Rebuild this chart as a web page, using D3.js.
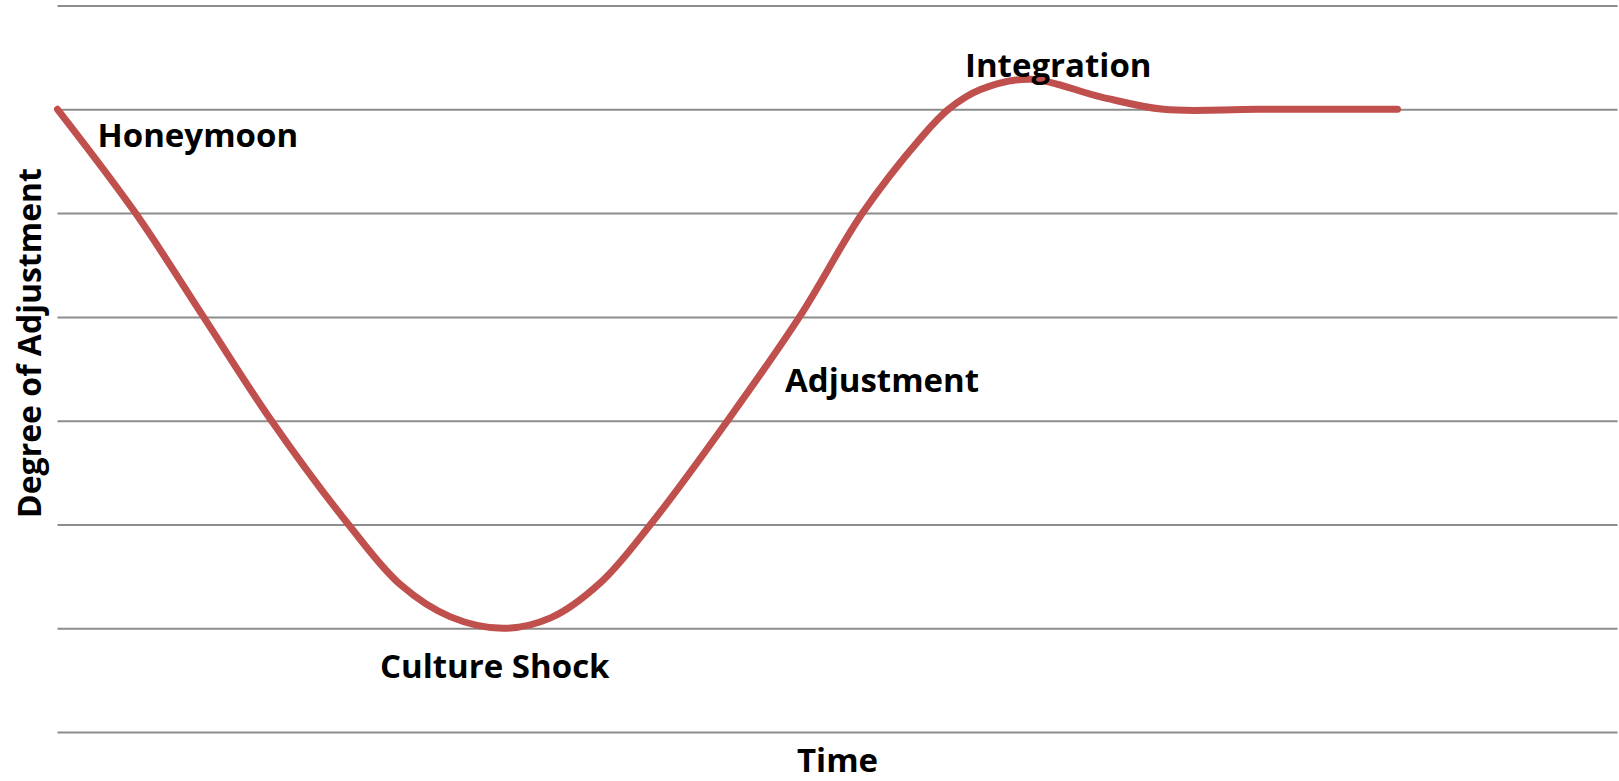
<!DOCTYPE html>
<html>
<head>
<meta charset="utf-8">
<script src="https://cdn.jsdelivr.net/npm/d3@7"></script>
<style>
  body { margin: 0; background: #fff; }
  text { font-family: "Open Sans", sans-serif; font-weight: 700; fill: #000; }
</style>
</head>
<body>
<div id="chart"></div>
<script>
// time (arbitrary units) vs degree of adjustment
const times       = [0,  78, 146, 214, 291, 343, 393, 446, 493, 543, 593, 670, 742, 805, 863, 891, 923, 973, 1043, 1106, 1200, 1340];
const adjustment  = [6,   5,   4,   3,   2, 1.42, 1.11, 1, 1.10, 1.44, 2,   3,   4,   5, 5.72, 6, 6.19, 6.29, 6.12, 6, 6, 6];
const gridLevels  = [0, 1, 2, 3, 4, 5, 6, 7];

// phase labels, anchored in data units (left edge, baseline)
const phaseNames  = ["Honeymoon", "Culture Shock", "Adjustment", "Integration"];
const phaseTimes  = [40, 322.5, 727.5, 907.5];
const phaseLevels = [5.64, 0.52, 3.28, 6.31];

const xTitle = "Time";
const yTitle = "Degree of Adjustment";

const W = 1619, H = 781;
const lineColor = "#c0504d";

let svg = d3.select("#chart").append("svg")
    .attr("width", W)
    .attr("height", H);

let x = d3.scaleLinear()
    .domain([0, 1560])
    .range([57.5, 1617.5]);

let y = d3.scaleLinear()
    .domain([0, 7])
    .range([732.1, 5.5]);

// horizontal gridlines
svg.append("g")
    .attr("transform", "translate(" + x.range()[0] + ",0)")
    .call(d3.axisLeft(y).tickValues(gridLevels)
        .tickSize(-(x.range()[1] - x.range()[0]))
        .tickFormat(""))
    .call(g => g.select(".domain").remove())
    .selectAll("line")
    .attr("stroke", "#8c8c8c")
    .attr("stroke-width", 2);

// the curve
let pts = times.map((t, i) => ({t: t, v: adjustment[i]}));
svg.append("path")
    .datum(pts)
    .attr("fill", "none")
    .attr("stroke", lineColor)
    .attr("stroke-width", 7)
    .attr("stroke-linecap", "round")
    .attr("stroke-linejoin", "round")
    .attr("d", d3.line()
        .curve(d3.curveCatmullRom.alpha(0.5))
        .x(d => x(d.t))
        .y(d => y(d.v)));

// phase labels
svg.selectAll(".phase")
    .data(phaseNames)
    .enter().append("text")
    .attr("class", "phase")
    .attr("x", (d, i) => x(phaseTimes[i]))
    .attr("y", (d, i) => y(phaseLevels[i]))
    .style("font-size", "33px")
    .text(d => d);

// axis titles
svg.append("text")
    .attr("x", (x.range()[0] + x.range()[1]) / 2)
    .attr("y", 772)
    .attr("text-anchor", "middle")
    .style("font-size", "33px")
    .text(xTitle);

svg.append("text")
    .attr("transform", "translate(41,343) rotate(-90)")
    .attr("text-anchor", "middle")
    .style("font-size", "32px")
    .text(yTitle);
</script>
</body>
</html>
